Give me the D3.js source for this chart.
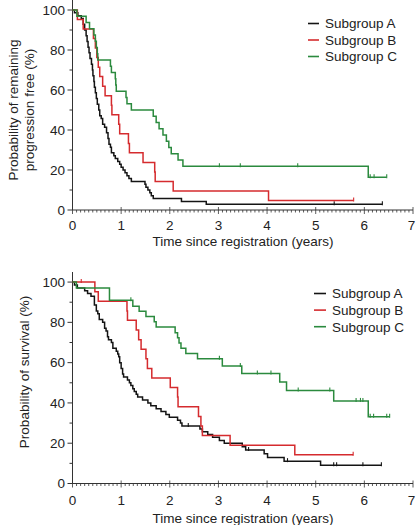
<!DOCTYPE html>
<html>
<head>
<meta charset="utf-8">
<script src="https://cdn.jsdelivr.net/npm/d3@7"></script>
<style>
html,body{margin:0;padding:0;background:#fff;}
svg{display:block;}
text{font-family:"Liberation Sans",Arial,sans-serif;fill:#222;}
</style>
</head>
<body>
<svg id="chart" width="416" height="525"></svg>
<script>
// ---------- DATA ----------
const groups = ["Subgroup A", "Subgroup B", "Subgroup C"];
const xTicks = [0, 1, 2, 3, 4, 5, 6, 7];
const yTicks = [0, 20, 40, 60, 80, 100];

// Panel 1: progression-free
const pfsA_time = [0.04,0.11,0.18,0.22,0.25,0.28,0.30,0.32,0.34,0.36,0.39,0.41,0.42,0.44,0.45,0.47,0.49,0.51,0.54,0.56,0.59,0.62,0.66,0.70,0.73,0.75,0.78,0.80,0.85,0.88,0.93,0.97,1.00,1.04,1.08,1.12,1.16,1.21,1.49,1.51,1.55,1.59,1.62,1.66,2.24,2.75];
const pfsA_surv = [98.6,97.1,95.7,92.9,90.0,87.1,84.3,81.4,78.6,75.7,72.9,70.0,67.1,64.3,61.4,58.6,55.7,52.9,50.0,47.1,45.7,42.9,41.4,38.6,35.7,32.9,31.4,28.6,27.1,25.7,24.3,22.9,21.4,20.0,18.6,17.1,15.7,14.3,12.9,11.4,10.0,8.6,7.1,5.7,4.3,2.9];
const pfsA_cens = [5.38, 6.37];
const pfsA_end = 6.37;

const pfsB_time = [0.10,0.22,0.43,0.47,0.50,0.53,0.56,0.62,0.67,0.80,0.81,0.95,0.97,1.15,1.17,1.45,1.69,1.70,2.07,4.03];
const pfsB_surv = [95.2,90.5,85.7,81.0,76.2,71.4,66.7,61.9,57.1,52.4,47.6,42.9,38.1,33.3,28.6,23.8,19.0,14.3,9.5,4.8];
const pfsB_cens = [5.78];
const pfsB_end = 5.78;

const pfsC_time = [0.09,0.28,0.35,0.44,0.47,0.49,0.51,0.52,0.78,0.80,0.88,0.89,0.90,1.10,1.12,1.21,1.66,1.72,1.78,1.86,1.93,1.98,2.03,2.17,2.27,6.08];
const pfsC_surv = [96.9,93.8,90.6,87.5,84.4,81.3,78.1,75.0,71.9,68.8,65.6,62.5,59.4,56.3,53.1,50.0,46.9,43.8,40.6,37.5,34.4,31.3,28.1,25.0,21.9,16.4];
const pfsC_cens = [3.02, 3.45, 4.63, 6.12, 6.20, 6.46];
const pfsC_end = 6.46;

// Panel 2: survival
const osA_time = [0.04,0.10,0.25,0.31,0.38,0.45,0.49,0.52,0.55,0.62,0.66,0.69,0.72,0.74,0.80,0.83,0.90,0.93,0.95,0.97,1.00,1.03,1.05,1.13,1.17,1.20,1.24,1.27,1.31,1.34,1.44,1.55,1.61,1.72,1.82,1.92,1.99,2.16,2.22,2.25,2.62,2.67,2.78,2.88,3.02,3.12,3.49,3.56,3.94,4.01,4.35,5.10];
const osA_surv = [98.6,97.1,95.7,94.3,92.9,88.6,85.7,84.3,81.4,80.0,77.1,75.7,72.9,71.4,70.0,67.1,65.7,64.3,62.9,60.0,57.1,54.3,52.9,51.4,50.0,48.6,47.1,45.7,44.3,42.9,41.4,40.0,38.6,37.1,35.7,34.3,32.9,31.4,30.0,28.6,27.1,25.7,24.3,22.9,21.4,20.0,18.3,16.6,14.8,12.9,11.1,9.0];
const osA_cens = [2.38, 3.62, 4.42, 5.37, 5.43, 5.97, 6.35];
const osA_end = 6.35;

const osB_time = [0.46,0.53,1.12,1.13,1.31,1.36,1.41,1.51,1.54,1.63,2.01,2.16,2.17,2.59,2.64,2.67,3.24,4.57];
const osB_surv = [95.2,90.5,85.7,81.0,76.2,71.4,66.7,61.9,57.1,52.4,47.6,42.9,38.1,33.3,28.6,23.8,19.0,14.3];
const osB_cens = [0.18, 5.77];
const osB_end = 5.77;

const osC_time = [0.08,0.76,1.24,1.37,1.51,1.68,1.72,2.11,2.16,2.19,2.23,2.33,2.57,3.08,3.48,4.26,4.40,5.37,6.08];
const osC_surv = [97.0,91.0,88.0,85.5,82.9,80.3,77.7,74.9,72.3,69.7,67.1,64.5,61.9,58.3,54.6,50.4,46.2,41.0,33.2];
const osC_cens = [1.20, 3.02, 3.45, 3.80, 4.08, 4.64, 5.29, 5.83, 5.92, 5.97, 6.12, 6.19, 6.46, 6.52];
const osC_end = 6.52;

// ---------- STYLE / LAYOUT ----------
const colors = ["#141414", "#d52b2e", "#2b8a3e"];
const svg = d3.select("#chart");
const FONT = 13.5;
const W = 416;

const panels = [
  {
    yTop: 0, yBottom: 210,
    titleLines: ["Probability of remaining", "progression free (%)"],
    titleX: [18, 34], titleY: 110,
    tickLabelY: 230, xTitleY: 246,
    legend: {x1: 308, x2: 319, tx: 325, y0: 23.5, dy: 16.5},
    series: [
      {t: pfsA_time, s: pfsA_surv, c: pfsA_cens, end: pfsA_end},
      {t: pfsB_time, s: pfsB_surv, c: pfsB_cens, end: pfsB_end},
      {t: pfsC_time, s: pfsC_surv, c: pfsC_cens, end: pfsC_end}
    ]
  },
  {
    yTop: 272, yBottom: 483.5,
    titleLines: ["Probability of survival (%)"],
    titleX: [29], titleY: 372,
    tickLabelY: 505, xTitleY: 523,
    legend: {x1: 314, x2: 326, tx: 332, y0: 293.5, dy: 16.6},
    series: [
      {t: osA_time, s: osA_surv, c: osA_cens, end: osA_end},
      {t: osB_time, s: osB_surv, c: osB_cens, end: osB_end},
      {t: osC_time, s: osC_surv, c: osC_cens, end: osC_end}
    ]
  }
];

const x = d3.scaleLinear().domain([0, 7]).range([72.5, 413]);

function levelAt(times, surv, tc) {
  let v = 100;
  for (let i = 0; i < times.length; i++) { if (times[i] <= tc) v = surv[i]; }
  return v;
}

panels.forEach(p => {
  const y = d3.scaleLinear().domain([0, 105]).range([p.yBottom, p.yTop]);
  const g = svg.append("g");

  // y axis
  const yMinor = d3.range(0, 101, 10);
  g.append("line").attr("x1", x(0)).attr("x2", x(0)).attr("y1", y(0)).attr("y2", y(105))
    .attr("stroke", "#333").attr("stroke-width", 1);
  g.selectAll(".ymin").data(yMinor).join("line")
    .attr("x1", x(0)).attr("x2", d => x(0) - (d % 20 === 0 ? 5 : 3))
    .attr("y1", d => y(d)).attr("y2", d => y(d))
    .attr("stroke", "#333").attr("stroke-width", 1);
  g.selectAll(".ylab").data(yTicks).join("text")
    .attr("x", x(0) - 7.5).attr("y", d => y(d) + 4.8)
    .attr("text-anchor", "end").attr("font-size", FONT).text(d => d);

  // x axis
  g.append("line").attr("x1", x(0)).attr("x2", x(7)).attr("y1", y(0)).attr("y2", y(0))
    .attr("stroke", "#333").attr("stroke-width", 1);
  const xMinor = d3.range(0, 7 * 12 + 1).map(i => i / 12);
  g.selectAll(".xmin").data(xMinor).join("line")
    .attr("x1", d => x(d)).attr("x2", d => x(d))
    .attr("y1", d => y(0) - (Math.abs(d - Math.round(d)) < 1e-6 ? 3 : 0))
    .attr("y2", d => y(0) + (Math.abs(d - Math.round(d)) < 1e-6 ? 4 : 2.5))
    .attr("stroke", "#333").attr("stroke-width", 0.8);
  g.selectAll(".xlab").data(xTicks).join("text")
    .attr("x", d => Math.min(x(d), W - 4.5)).attr("y", p.tickLabelY)
    .attr("text-anchor", "middle").attr("font-size", FONT).text(d => d);
  g.append("text").attr("x", 243).attr("y", p.xTitleY)
    .attr("text-anchor", "middle").attr("font-size", FONT)
    .text("Time since registration (years)");

  // y title
  p.titleLines.forEach((line, i) => {
    g.append("text")
      .attr("transform", `translate(${p.titleX[i]},${p.titleY}) rotate(-90)`)
      .attr("text-anchor", "middle").attr("font-size", FONT).text(line);
  });

  // curves
  const lineGen = d3.line().x(d => x(d[0])).y(d => y(d[1])).curve(d3.curveStepAfter);
  p.series.forEach((s, k) => {
    const pts = [[0, 100]].concat(s.t.map((t, i) => [t, s.s[i]]));
    pts.push([s.end, s.s[s.s.length - 1]]);
    g.append("path").datum(pts).attr("d", lineGen)
      .attr("fill", "none").attr("stroke", colors[k]).attr("stroke-width", 1.5);
    g.selectAll(null).data(s.c).join("line")
      .attr("x1", d => x(d)).attr("x2", d => x(d))
      .attr("y1", d => y(levelAt(s.t, s.s, d)) - 3)
      .attr("y2", d => y(levelAt(s.t, s.s, d)) + 1)
      .attr("stroke", colors[k]).attr("stroke-width", 1.1);
  });

  // legend
  groups.forEach((name, k) => {
    const yy = p.legend.y0 + k * p.legend.dy;
    g.append("line").attr("x1", p.legend.x1).attr("x2", p.legend.x2)
      .attr("y1", yy).attr("y2", yy).attr("stroke", colors[k]).attr("stroke-width", 1.6);
    g.append("text").attr("x", p.legend.tx).attr("y", yy + 4.8)
      .attr("font-size", FONT).text(name);
  });
});
</script>
</body>
</html>
